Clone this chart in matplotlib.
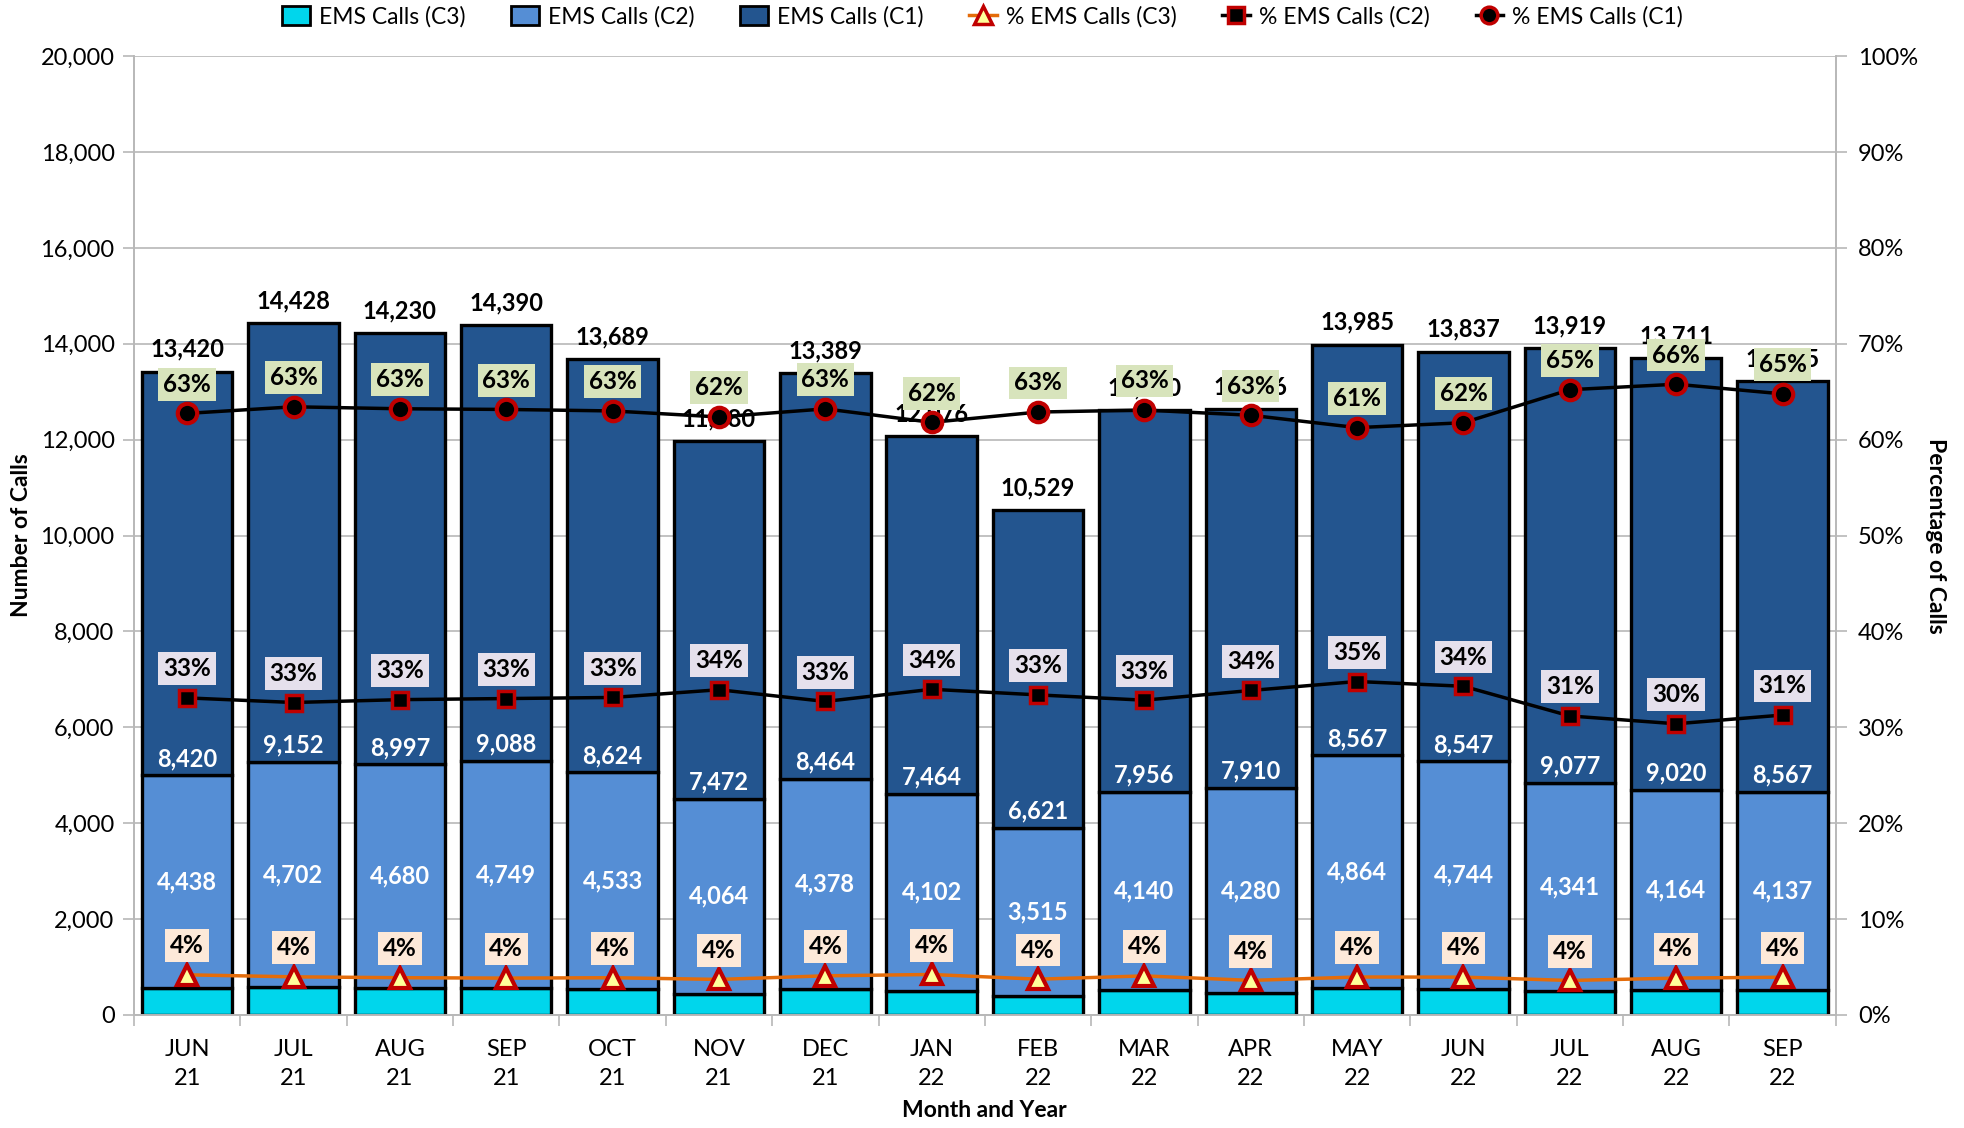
import matplotlib
matplotlib.use("Agg")
import matplotlib.pyplot as plt
from matplotlib.lines import Line2D
from matplotlib.patches import Patch
from matplotlib.ticker import FuncFormatter, MultipleLocator
import numpy as np

months = ["JUN\n21", "JUL\n21", "AUG\n21", "SEP\n21", "OCT\n21", "NOV\n21", "DEC\n21", "JAN\n22",
          "FEB\n22", "MAR\n22", "APR\n22", "MAY\n22", "JUN\n22", "JUL\n22", "AUG\n22", "SEP\n22"]
c1_calls = [8420, 9152, 8997, 9088, 8624, 7472, 8464, 7464, 6621, 7956, 7910, 8567, 8547, 9077, 9020, 8567]
c2_calls = [4438, 4702, 4680, 4749, 4533, 4064, 4378, 4102, 3515, 4140, 4280, 4864, 4744, 4341, 4164, 4137]
c3_calls = [562, 574, 553, 553, 532, 444, 547, 510, 393, 514, 456, 554, 546, 501, 527, 521]

C1_COL = "#23558f"
C2_COL = "#558ed5"
C3_COL = "#00d6ec"
RED = "#c00000"
GRID = "#b8b8b8"

plt.rcParams["font.family"] = ["Lato", "DejaVu Sans"]

c1 = np.array(c1_calls)
c2 = np.array(c2_calls)
c3 = np.array(c3_calls)
total = c1 + c2 + c3
p1, p2, p3 = c1 / total, c2 / total, c3 / total
x = np.arange(len(months))

fig = plt.figure(figsize=(19.65, 11.28), dpi=100)
ax = fig.add_axes([0.0682, 0.1002, 0.866, 0.850])
ax2 = ax.twinx()

bw = 0.85
ax.bar(x, c3, bw, color=C3_COL, edgecolor="black", linewidth=2.4, zorder=2)
ax.bar(x, c2, bw, bottom=c3, color=C2_COL, edgecolor="black", linewidth=2.4, zorder=2)
ax.bar(x, c1, bw, bottom=c3 + c2, color=C1_COL, edgecolor="black", linewidth=2.4, zorder=2)

for i in x:
    ax.annotate(f"{total[i]:,}", xy=(i, total[i]), xytext=(0, 16), textcoords="offset points",
                ha="center", va="center", fontsize=17, fontweight="bold", color="black", zorder=3)
    ax.annotate(f"{c1[i]:,}", xy=(i, c3[i] + c2[i]), xytext=(0, 12), textcoords="offset points",
                ha="center", va="center", fontsize=17, fontweight="bold", color="white", zorder=3)
    ax.text(i, c3[i] + c2[i] / 2, f"{c2[i]:,}", ha="center", va="center",
            fontsize=17, fontweight="bold", color="white", zorder=3)

ax.set_xlim(-0.5, len(months) - 0.5)
ax.set_ylim(0, 20000)
ax.yaxis.set_major_locator(MultipleLocator(2000))
ax.yaxis.set_major_formatter(FuncFormatter(lambda v, _: f"{int(v):,}"))
ax.grid(axis="y", color=GRID, linewidth=1.2)
ax.set_axisbelow(True)
ax.set_xticks(x)
ax.set_xticklabels(months, fontsize=17, linespacing=1.5)
ax.set_xticks(np.arange(-0.5, len(months), 1), minor=True)
ax.tick_params(axis="x", which="major", length=0, pad=17)
ax.tick_params(axis="x", which="minor", length=8, color=GRID, width=1.2)
ax.tick_params(axis="y", length=8, color=GRID, width=1.2, labelsize=17, pad=6)
ax.spines["top"].set_visible(False)
ax2.spines["top"].set_visible(False)
for s in ["left", "right", "bottom"]:
    ax.spines[s].set_color(GRID)
    ax.spines[s].set_linewidth(1.2)
    ax2.spines[s].set_color(GRID)
    ax2.spines[s].set_linewidth(1.2)

ax.set_ylabel("Number of Calls", fontsize=16.5, fontweight="bold", labelpad=6)
ax.set_xlabel("Month and Year", fontsize=16.5, fontweight="bold", labelpad=8)

ax2.set_ylim(0, 1)
ax2.yaxis.set_major_locator(MultipleLocator(0.1))
ax2.yaxis.set_major_formatter(FuncFormatter(lambda v, _: f"{v * 100:.0f}%"))
ax2.tick_params(axis="y", length=8, color=GRID, width=1.2, labelsize=17, pad=8)
ax2.set_ylabel("Percentage of Calls", fontsize=16.5, fontweight="bold", rotation=-90, labelpad=20)

ax2.plot(x, p3, color="#e46c0a", linewidth=2.5, marker="^", markersize=15,
         markerfacecolor="#ffff99", markeredgecolor=RED, markeredgewidth=3, zorder=4)
ax2.plot(x, p2, color="black", linewidth=2.5, marker="s", markersize=12,
         markerfacecolor="black", markeredgecolor=RED, markeredgewidth=2.5, zorder=4)
ax2.plot(x, p1, color="black", linewidth=2.5, marker="o", markersize=14,
         markerfacecolor="black", markeredgecolor=RED, markeredgewidth=3, zorder=4)

for vals, bg in [(p1, "#d8e4bc"), (p2, "#e5e0ec"), (p3, "#fde9d9")]:
    for i in x:
        ax2.annotate(f"{round(vals[i] * 100)}%", xy=(i, vals[i]), xytext=(0, 21),
                     textcoords="offset points", ha="center", va="center",
                     fontsize=17.5, fontweight="bold", color="black", zorder=5,
                     bbox=dict(boxstyle="square,pad=0.2", fc=bg, ec="none"))

handles = [
    Patch(facecolor=C3_COL, edgecolor="black", linewidth=2),
    Patch(facecolor=C2_COL, edgecolor="black", linewidth=2),
    Patch(facecolor=C1_COL, edgecolor="black", linewidth=2),
    Line2D([], [], color="#e46c0a", linewidth=2.5, marker="^", markersize=13,
           markerfacecolor="#ffff99", markeredgecolor=RED, markeredgewidth=2.5),
    Line2D([], [], color="black", linewidth=2.5, marker="s", markersize=11,
           markerfacecolor="black", markeredgecolor=RED, markeredgewidth=2.5),
    Line2D([], [], color="black", linewidth=2.5, marker="o", markersize=12,
           markerfacecolor="black", markeredgecolor=RED, markeredgewidth=2.5),
]
labels = ["EMS Calls (C3)", "EMS Calls (C2)", "EMS Calls (C1)",
          "% EMS Calls (C3)", "% EMS Calls (C2)", "% EMS Calls (C1)"]
fig.legend(handles, labels, loc="center", bbox_to_anchor=(0.5, 0.985), ncol=6, frameon=False,
           fontsize=16.5, handlelength=1.2, handleheight=0.9, handletextpad=0.4, columnspacing=2.0)

fig.savefig("out.png", dpi=100)
